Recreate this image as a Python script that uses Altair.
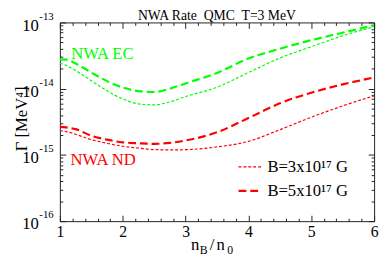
import altair as alt
import pandas as pd

# ---- data ----
x_vals = [1.0, 1.1, 1.25, 1.5, 1.75, 2.0, 2.25, 2.5, 2.75, 3.0, 3.5, 4.0, 4.5, 5.0, 5.5, 6.0]
ec_b5 = [2.77e-14, 2.75e-14, 2.4e-14, 1.75e-14, 1.3e-14, 1.04e-14, 9.2e-15, 8.9e-15, 1.0e-14,
         1.2e-14, 1.73e-14, 2.85e-14, 4.0e-14, 5.4e-14, 7.0e-14, 9.1e-14]
ec_b3 = [2.42e-14, 2.25e-14, 1.88e-14, 1.32e-14, 9.3e-15, 7.0e-15, 5.9e-15, 5.7e-15, 6.3e-15,
         7.6e-15, 1.05e-14, 1.75e-14, 2.9e-14, 4.3e-14, 6.3e-14, 8.6e-14]
nd_b5 = [2.65e-15, 2.6e-15, 2.45e-15, 1.95e-15, 1.7e-15, 1.55e-15, 1.5e-15, 1.47e-15, 1.52e-15,
         1.65e-15, 2.2e-15, 3.6e-15, 6.0e-15, 8.7e-15, 1.16e-14, 1.48e-14]
nd_b3 = [2.32e-15, 2.25e-15, 2.05e-15, 1.7e-15, 1.5e-15, 1.35e-15, 1.27e-15, 1.2e-15, 1.19e-15,
         1.2e-15, 1.32e-15, 1.6e-15, 2.4e-15, 3.7e-15, 5.5e-15, 7.8e-15]

B3 = "B=3x10\u00b9\u2077 G"
B5 = "B=5x10\u00b9\u2077 G"
procs = ["EC", "ND"]
proc_colors = ["#00ff00", "#ff0000"]

x_major = [1, 2, 3, 4, 5, 6]
x_minor = [1.2, 1.4, 1.6, 1.8, 2.2, 2.4, 2.6, 2.8, 3.2, 3.4, 3.6, 3.8,
           4.2, 4.4, 4.6, 4.8, 5.2, 5.4, 5.6, 5.8]
y_major = [1e-16, 1e-15, 1e-14, 1e-13]
y_exponents = ["-16", "-15", "-14", "-13"]
y_minor = [m * 10.0 ** e for e in (-16, -15, -14) for m in range(2, 10)]

annot_text = ["NWA EC", "NWA ND"]
annot_x = [1.18, 1.17]
annot_y = [3.36e-14, 8.3e-16]

title_text = "NWA Rate\u00a0 QMC\u00a0 T=3 MeV"

W, H = 321, 203
FONT = "Times New Roman, Liberation Serif, Tinos, Nimbus Roman, DejaVu Serif, serif"
TICK = "#222222"

rows = []
for proc, blab, vals in [("EC", B5, ec_b5), ("EC", B3, ec_b3), ("ND", B5, nd_b5), ("ND", B3, nd_b3)]:
    for xv, yv in zip(x_vals, vals):
        rows.append({"x": xv, "y": yv, "proc": proc, "B": blab, "series": proc + blab})
df = pd.DataFrame(rows)

xs = alt.Scale(domain=[1, 6], nice=False, zero=False)
ys = alt.Scale(type="log", domain=[1e-16, 1e-13], nice=False)

legend = alt.Legend(title=None, orient="none", legendX=181, legendY=135, padding=0,
                    symbolType="stroke", symbolSize=529, symbolStrokeColor="#ff0000",
                    labelFont=FONT, labelFontSize=17, labelColor="black", labelOffset=5,
                    rowPadding=3, symbolOffset=0)

lines = alt.Chart(df).mark_line(interpolate="monotone", clip=True).encode(
    x=alt.X("x:Q", scale=xs, axis=None),
    y=alt.Y("y:Q", scale=ys, axis=None),
    color=alt.Color("proc:N", scale=alt.Scale(domain=procs, range=proc_colors), legend=None),
    strokeDash=alt.StrokeDash("B:N", scale=alt.Scale(domain=[B3, B5], range=[[3, 2], [8, 4]]), legend=legend),
    strokeWidth=alt.StrokeWidth("B:N", scale=alt.Scale(domain=[B3, B5], range=[1.2, 2.2]), legend=legend),
    detail="series:N",
)

common = dict(domain=False, grid=False, tickColor=TICK, title=None)


def axis_layer(xaxis, yaxis):
    return alt.Chart(df).mark_point(opacity=0).encode(
        x=alt.X("x:Q", scale=xs, axis=xaxis),
        y=alt.Y("y:Q", scale=ys, axis=yaxis),
    )


ax1 = axis_layer(
    alt.Axis(orient="bottom", offset=-6, tickSize=6, values=x_major, format="d",
             labelFont=FONT, labelFontSize=16, labelPadding=3, labelFlush=False,
             labelOverlap=False, labelColor="black", **common),
    alt.Axis(orient="left", offset=-6, tickSize=6, values=y_major, labelExpr="'10'",
             labelFont=FONT, labelFontSize=17, labelPadding=22, labelOffset=3,
             labelOverlap=False, labelColor="black", labelFlush=False,
             domain=False, grid=False, tickColor=TICK,
             title="\u0393 [MeV\u2074]", titleFont=FONT, titleFontSize=17,
             titleFontWeight="normal", titleColor="black", titleX=-45, titleY=98,
             titleAngle=270, titleAlign="center", titleBaseline="middle"),
)
ax2 = axis_layer(
    alt.Axis(orient="bottom", offset=-3, tickSize=3, values=x_minor, labels=False, **common),
    alt.Axis(orient="left", offset=-3, tickSize=3, values=y_minor, labels=False, **common),
)
ax3 = axis_layer(
    alt.Axis(orient="top", offset=-6, tickSize=6, values=x_major, labels=False, **common),
    alt.Axis(orient="right", offset=-6, tickSize=6, values=y_major, labels=False, **common),
)
ax4 = axis_layer(
    alt.Axis(orient="top", offset=-3, tickSize=3, values=x_minor, labels=False, **common),
    alt.Axis(orient="right", offset=-3, tickSize=3, values=y_minor, labels=False, **common),
)

exp_df = pd.DataFrame({"y": y_major, "t": y_exponents})
exps = alt.Chart(exp_df).mark_text(align="left", baseline="middle", font=FONT, fontSize=11,
                                    dx=-21, dy=-6, color="black").encode(
    x=alt.X(datum=1, scale=xs, axis=None),
    y=alt.Y("y:Q", scale=ys, axis=None),
    text="t:N",
)

ann_df = pd.DataFrame({"x": annot_x, "y": annot_y, "t": annot_text, "proc": procs})
anns = alt.Chart(ann_df).mark_text(align="left", baseline="middle", font=FONT, fontSize=17).encode(
    x=alt.X("x:Q", scale=xs, axis=None),
    y=alt.Y("y:Q", scale=ys, axis=None),
    text="t:N",
    color=alt.Color("proc:N", scale=alt.Scale(domain=procs, range=proc_colors), legend=None),
)

# x-axis title n_B/n_0 with subscripts, and the chart title
xt_df = pd.DataFrame({
    "t": ["n", "B", "/", "n", "0", title_text],
    "px": [134, 143, 153, 160, 171, 160.5],
    "py": [232, 237, 232, 232, 237, -3],
    "fs": [17, 12, 17, 17, 12, 14],
    "al": ["left", "left", "left", "left", "left", "center"],
})
xtitle = alt.Chart(xt_df[xt_df["al"] == "left"]).mark_text(
    align="left", baseline="alphabetic", font=FONT, color="black").encode(
    x=alt.X("px:Q", scale=None, axis=None),
    y=alt.Y("py:Q", scale=None, axis=None),
    text="t:N",
    size=alt.Size("fs:Q", scale=None, legend=None),
)
ttl = alt.Chart(xt_df[xt_df["al"] == "center"]).mark_text(
    align="center", baseline="alphabetic", font=FONT, color="black").encode(
    x=alt.X("px:Q", scale=None, axis=None),
    y=alt.Y("py:Q", scale=None, axis=None),
    text="t:N",
    size=alt.Size("fs:Q", scale=None, legend=None),
)

chart = alt.layer(lines, ax1, ax2, ax3, ax4, exps, anns, xtitle, ttl).resolve_axis(
    x="independent", y="independent"
).properties(
    width=W, height=H,
    padding={"left": 53, "top": 12, "right": 5, "bottom": 40},
    autosize="none",
).configure_view(stroke=TICK, strokeWidth=1)

chart.save("out.html", embed_options={"renderer": "svg", "actions": False})
